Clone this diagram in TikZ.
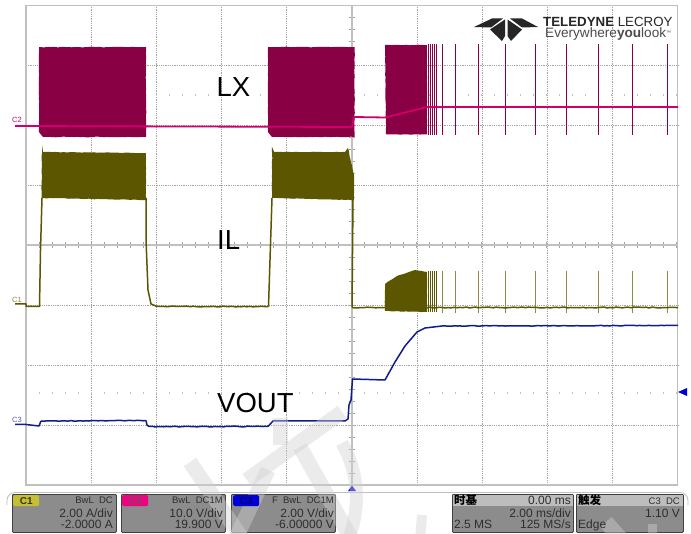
\documentclass[tikz,border=0pt]{standalone}
\usepackage{fontspec}
\setmainfont{Liberation Sans}
\newfontfamily\cjkfont{Noto Sans CJK SC}
\usetikzlibrary{decorations.pathmorphing}
\definecolor{lxdark}{HTML}{8A0045}
\definecolor{lxline}{HTML}{D0006A}
\definecolor{ildark}{HTML}{5C5600}
\definecolor{iltick}{HTML}{8F8A40}
\definecolor{voline}{HTML}{101C8C}
\definecolor{gridgrey}{HTML}{C0C0C0}
\definecolor{markgrey}{HTML}{D1D1D1}
\definecolor{panelgrey}{HTML}{8C8C8C}
\definecolor{panelhead}{HTML}{BDBDBD}
\definecolor{paneltext}{HTML}{2E2E2E}
\tikzset{
    gridline/.style = {draw=gridgrey!85!black, line width=0.8pt, densely dotted},
    axisline/.style = {draw=gridgrey, line width=1.4pt},
    frameline/.style = {draw=gridgrey, line width=1.2pt},
    axistick/.style = {draw=gridgrey!85!black, line width=0.7pt},
    faintdot/.style = {draw=gridgrey, line width=0.8pt},
    wmark/.style = {draw=markgrey, opacity=0.43, line width=15pt},
    noisy/.style = {decorate, decoration={random steps, segment length=3pt, amplitude=#1}},
    burst/.style = {draw=none, fill=#1, noisy=0.3pt},
    spike/.style = {draw=#1, line width=1pt},
    trace/.style = {draw=#1, line width=1.5pt, line join=round},
    chlabel/.style = {text=#1, inner sep=0pt, anchor=base west, font=\fontsize{7.5}{8}\selectfont},
    biglabel/.style = {text=black, inner sep=0pt, anchor=base west, font=\fontsize{27.5}{30}\selectfont},
    panelbox/.style = {draw=black!75, line width=0.8pt, fill=panelgrey, rounded corners=1pt, inner sep=0pt, minimum height=38pt, anchor=north west},
    paneltag/.style = {fill=#1, inner sep=0pt, minimum width=26pt, minimum height=11pt, anchor=north west, rounded corners=1.5pt, font=\fontsize{10}{11}\bfseries\selectfont},
    rtext/.style = {text=paneltext, inner sep=0pt, anchor=base east, font=\fontsize{12}{12}\selectfont},
    ltext/.style = {text=paneltext, inner sep=0pt, anchor=base west, font=\fontsize{12}{12}\selectfont},
    stext/.style = {text=paneltext, inner sep=0pt, anchor=base east, font=\fontsize{9.5}{10}\selectfont},
    hantext/.style = {text=black, inner sep=0pt, anchor=base west, font=\cjkfont\bfseries\fontsize{11.5}{12}\selectfont}
}
\begin{document}
\begin{tikzpicture}[x=1pt, y=-1pt]
    \useasboundingbox [fill=white] (0,0) rectangle (691,534);
    % grid
    \foreach \gx in {91.2,156.4,221.6,286.8,417.2,482.4,547.6,612.8}
        \draw [gridline] (\gx,5) -- (\gx,485);
    \foreach \gy in {65,125,185,305,365,425}
        \draw [gridline] (26,\gy) -- (678,\gy);
    \foreach \gx in {39,52,...,676}{
        \draw [faintdot] (\gx,94) -- (\gx,96);
        \draw [faintdot] (\gx,392) -- (\gx,394);
        \draw [axistick] (\gx,242) -- (\gx,248);
    }
    \foreach \gy in {17,29,...,485}
        \draw [axistick] (349,\gy) -- (355,\gy);
    \draw [axisline] (26,245) -- (678,245);
    \draw [axisline] (352,5) -- (352,485);
    \draw [frameline] (26,5.5) rectangle (677.5,485);
    % LX
    \fill [burst=lxdark] (39,47) -- (146,47) -- (146,137) -- (43,137) -- (39,132) -- cycle;
    \fill [burst=lxdark] (268,47) -- (354.5,47) -- (354.5,137) -- (272,137) -- (268,132) -- cycle;
    \fill [burst=lxdark] (385,45) -- (427,45) -- (427,134.5) -- (386,134.5) -- cycle;
    \foreach \sx in {428.5,430.5,432.3,434,436.2,442.3,455.3,478.3,505.7,535.3,566.7,598.3,632.7,667.7}
        \draw [spike=lxdark] (\sx,44.5) -- (\sx,135);
    \coordinate (lxa) at (15,126);
    \coordinate (lxb) at (352,127);
    \coordinate (lxc) at (385,117.5);
    \coordinate (lxd) at (427,107);
    \coordinate (lxe) at (678,107);
    \draw [trace=lxline, line width=1.8pt] (lxa) -- (lxb) -- (354,117) -- (lxc) -- (lxd) -- (lxe);
    % IL
    \fill [burst=ildark] (42,145) -- (43,152) -- (146,153) -- (146,200) -- (41.5,198) -- cycle;
    \fill [burst=ildark] (272,147) -- (274,152) -- (345,152) -- (348,148) -- (354,175) -- (354,200) -- (272,198) -- cycle;
    \fill [burst=ildark] (385,284) -- (397,276) -- (415,270) -- (427,272) -- (427,312) -- (385,311) -- cycle;
    \foreach \sx in {428.5,430.5,432.3,434,436.2}
        \draw [spike=ildark] (\sx,271) -- (\sx,312);
    \foreach \sx in {442.3,455.3,478.3,505.7,535.3,566.7,598.3,632.7,667.7}
        \draw [spike=iltick] (\sx,271) -- (\sx,313);
    \coordinate (ila) at (15,304);
    \coordinate (ilb) at (39.5,306.5);
    \coordinate (ilc) at (268.5,306.5);
    \coordinate (ild) at (352,307.5);
    \coordinate (ile) at (678,307.5);
    \draw [trace=ildark] (ila) -- (26,304) -- (26,306.5) -- (ilb) -- (40.5,250) -- (42,198);
    \draw [trace=ildark] (146,198) -- (146,240) -- (148,290) -- (151,304) -- (157,306.5);
    \draw [trace=ildark, noisy=0.4pt] (157,306.5) -- (ilc);
    \draw [trace=ildark] (ilc) -- (270,260) -- (272,198);
    \draw [trace=ildark] (353,200) -- (ild);
    \draw [trace=ildark, noisy=0.5pt] (ild) -- (ile);
    % VOUT
    \coordinate (voa) at (15,424.5);
    \coordinate (vob) at (39,426);
    \coordinate (voc) at (146,420.5);
    \coordinate (vod) at (268,426.5);
    \coordinate (voe) at (345,421);
    \coordinate (vof) at (385,380);
    \coordinate (vog) at (678,325.5);
    \draw [trace=voline] (voa) -- (26,424.5) -- (vob) -- (41,421);
    \draw [trace=voline, noisy=0.3pt] (41,421) -- (voc);
    \draw [trace=voline] (voc) -- (147,425) -- (149,426.5);
    \draw [trace=voline, noisy=0.4pt] (149,426.5) -- (vod);
    \draw [trace=voline] (vod) -- (273,421) -- (voe)
        -- (348,419) -- (349,405) -- (351,400) -- (352.5,379) -- (vof) -- (395,362) -- (405,346) -- (417,332) -- (425,328) -- (442,326);
    \draw [trace=voline, noisy=0.3pt] (442,326) -- (vog);
    % labels
    \node (lblLX) [biglabel] at (216.5,96.5) {LX};
    \node (lblIL) [biglabel] at (217,250) {IL};
    \node (lblVOUT) [biglabel] at (217,413) {VOUT};
    \node (tagC2) [chlabel=lxline] at (12,123) {C2};
    \node (tagC1) [chlabel=iltick] at (12,302.5) {C1};
    \node (tagC3) [chlabel=voline!70] at (12,422.5) {C3};
    % logo
    \fill [black!85] (474,27) -- (492,18.5) -- (503,18.5) -- (491,27.5) -- cycle;
    \fill [black!85] (538,27) -- (522,18.5) -- (510,18.5) -- (522,27.5) -- cycle;
    \fill [black!85] (490,29.5) -- (505,19.5) -- (505,36) -- (502,41) -- cycle;
    \fill [black!85] (522,29.5) -- (507.5,19.5) -- (507.5,36) -- (511,41) -- cycle;
    \node (logoA) [inner sep=0pt, anchor=base west, text depth=0pt, text=black!85, font=\fontsize{13.3}{14}\selectfont] at (543,27) {\textbf{TELEDYNE} LECROY};
    \node (logoB) [inner sep=0pt, anchor=base west, text height=9pt, text=black!70, font=\fontsize{13.6}{14}\selectfont] at (545,38) {Everywhere\textbf{you}look\raisebox{3pt}{\fontsize{5}{5}\selectfont ™}};
    % markers
    \fill [blue!85!black] (678,392) -- (687,388) -- (687,396) -- cycle;
    \fill [blue!85!black] (352,485.5) -- (356,491) -- (348,491) -- cycle;
    \draw [gridgrey, line width=0.8pt, rounded corners=8pt] (7,505) -- (7,492.5) -- (688,492.5) -- (688,505);
    % panels
    \node (panelC1) [panelbox, minimum width=104pt] at (12,494) {};
    \node (panelC2) [panelbox, minimum width=104pt] at (121,494) {};
    \node (panelC3) [panelbox, minimum width=104pt] at (231,494) {};
    \node (panelT) [panelbox, minimum width=121pt] at (452,494) {};
    \node (panelE) [panelbox, minimum width=107pt] at (576,494) {};
    \fill [panelhead] (452.5,494.5) rectangle (572.5,505.5);
    \fill [panelhead] (576.5,494.5) rectangle (682.5,505.5);
    % watermark
    \draw [wmark] (190,462) -- (243,540);
    \draw [wmark] (247,480) -- (342,412);
    \draw [wmark] (280,418) -- (280,445);
    \draw [wmark] (268,470) -- (235,540);
    \draw [wmark] (300,447) -- (352,540);
    \draw [wmark, line width=13pt] (342,443) .. controls (360,475) and (360,510) .. (348,540);
    \draw [wmark, line width=10pt] (422,515) -- (420,540);
    \draw [wmark] (606,522) -- (622,540);
    \draw [wmark, line width=9pt] (652,524) -- (652,540);
    % panel texts
    \node (tagA) [paneltag={yellow!75!black}, text=black!80] at (13,495) {C1};
    \node (tagB) [paneltag={magenta!90!red}, text=magenta!40!black] at (122,495) {C2};
    \node (tagD) [paneltag={blue!85!black}, text=blue!40!black] at (233,495) {C3};
    \node (bwA) [stext] at (113,503.5) {BwL\ \ DC};
    \node (divA) [rtext] at (113,517) {2.00 A/div};
    \node (offA) [rtext] at (113,528) {-2.0000 A};
    \node (bwB) [stext] at (223,503.5) {BwL\ \ DC1M};
    \node (divB) [rtext] at (223,517) {10.0 V/div};
    \node (offB) [rtext] at (223,528) {19.900 V};
    \node (bwD) [stext] at (334,503.5) {F\ \ BwL\ \ DC1M};
    \node (divD) [rtext] at (334,517) {2.00 V/div};
    \node (offD) [rtext] at (334,528) {-6.00000 V};
    \node (timeHead) [hantext] at (454,504) {时基};
    \node (timeZero) [rtext] at (571,504) {0.00 ms};
    \node (timeDiv) [rtext] at (571,517) {2.00 ms/div};
    \node (timeMS) [ltext] at (454,528) {2.5 MS};
    \node (timeRate) [rtext] at (571,528) {125 MS/s};
    \node (trigHead) [hantext] at (578,504) {触发};
    \node (trigCh) [stext] at (680,504) {C3\ \ DC};
    \node (trigVolt) [rtext] at (680,517) {1.10 V};
    \node (trigType) [ltext] at (578,528) {Edge};
\end{tikzpicture}
\end{document}
